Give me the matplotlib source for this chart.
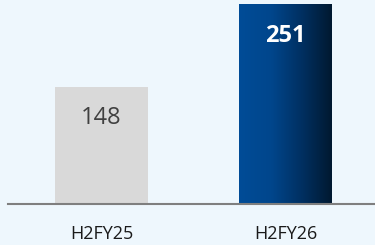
import matplotlib.pyplot as plt
import numpy as np
from matplotlib.colors import LinearSegmentedColormap

categories = ["H2FY25", "H2FY26"]
values = [148, 251]

BG = "#eef7fd"
plt.rcParams["font.family"] = ["Open Sans", "DejaVu Sans"]

fig = plt.figure(figsize=(3.75, 2.45), dpi=100, facecolor=BG)
ax = fig.add_axes([8 / 375, 41 / 245, 367 / 375, 204 / 245])
ax.set_facecolor(BG)

width = 0.505
x = np.arange(len(categories))
ymax = values[1] * 204 / 199
ax.set_xlim(-0.508, 1.486)
ax.set_ylim(0, ymax)
offset = 31 * ymax / 204  # label sits ~31px below bar top

# first bar plain grey
ax.bar(x[0], values[0], width=width, color="#d9d9d9", zorder=2)

# second bar with horizontal gradient
grad = LinearSegmentedColormap.from_list(
    "blue", [(0, "#004c97"), (0.35, "#00468c"), (0.7, "#002e5e"), (1, "#001930")])
bar2 = ax.bar(x[1], values[1], width=width, color="none", zorder=2)[0]
g = np.linspace(0, 1, 256).reshape(1, -1)
ax.imshow(g, cmap=grad, aspect="auto", zorder=2,
          extent=[bar2.get_x(), bar2.get_x() + width, 0, values[1]])

ax.text(x[0], values[0] - offset, str(values[0]), ha="center", va="center",
        fontsize=17, color="#404040")
ax.text(x[1], values[1] - offset, str(values[1]), ha="center", va="center",
        fontsize=17, fontweight="bold", color="white")

ax.set_xticks(x)
ax.set_xticklabels(categories, fontsize=13, color="#1a1a1a")
ax.tick_params(axis="x", length=0, pad=15)
ax.set_yticks([])
for side in ["top", "right", "left"]:
    ax.spines[side].set_visible(False)
ax.spines["bottom"].set_color("#7f7f7f")
ax.spines["bottom"].set_linewidth(1.5)
ax.spines["bottom"].set_zorder(3)

fig.savefig("out.png", dpi=100, facecolor=BG)
